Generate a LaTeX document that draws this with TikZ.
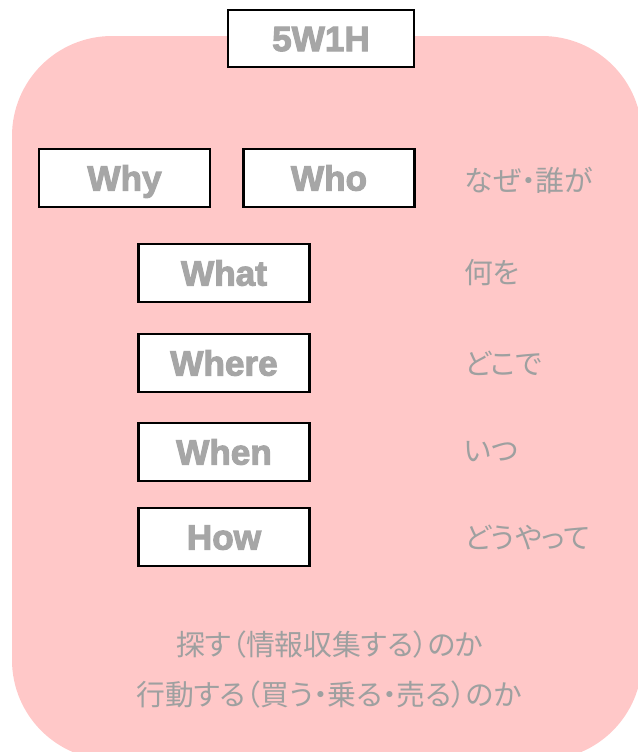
\documentclass[tikz,border=0pt]{standalone}
\usepackage{fontspec}
\setmainfont{Liberation Sans}
\newfontfamily\wfont[FakeBold=3]{Liberation Sans Bold}
\newfontfamily\jpfont[RawFeature=+palt]{Noto Sans CJK JP}
\definecolor{pinkbg}{RGB}{255,200,200}
\definecolor{wgray}{RGB}{166,166,166}
\definecolor{jpgray}{RGB}{158,160,160}
\tikzset{
  wbox/.style={draw=black,line width=1.5pt,fill=white,minimum width=3.42cm,minimum height=1.16cm,inner sep=0pt,text height=14.3pt,text depth=0pt,font=\fontsize{20}{20}\wfont,text=wgray},
  jplabel/.style={anchor=west,inner sep=0pt,font=\fontsize{16.4}{16.4}\jpfont,text=jpgray},
  jpline/.style={inner sep=0pt,font=\fontsize{16.4}{16.4}\jpfont,text=jpgray}
}

\begin{document}
\begin{tikzpicture}[x=0.02cm,y=-0.02cm]
    \useasboundingbox (0,0) rectangle (638,752);
    % pink background, cut off at the right and bottom
    \begin{scope}
        \clip (0,0) rectangle (638,752);
        \fill[pinkbg,rounded corners=2cm] (12,36) rectangle (642,760);
    \end{scope}

    \node[wbox,minimum width=3.72cm,minimum height=1.14cm] (title) at (321,38.5) {5W1H};

    \node[wbox] (why) at (124.5,178) {Why};
    \node[wbox] (who) at (329,178) {Who};
    \node[jplabel] (whywho) at (464,180) {なぜ・誰が};

    \foreach \name/\y/\en/\jp in {what/273/What/何を,where/363/Where/どこで,when/452/When/いつ,how/537/How/どうやって}
    {\node[wbox] (\name) at (224,\y) {\en};
     \node[jplabel] (\name-jp) at (464,\y) {\jp};}

    \node[jpline] (search) at (330,645) {探す（情報収集する）のか};
    \node[jpline] (act) at (329,695) {行動する（買う・乗る・売る）のか};
\end{tikzpicture}
\end{document}
